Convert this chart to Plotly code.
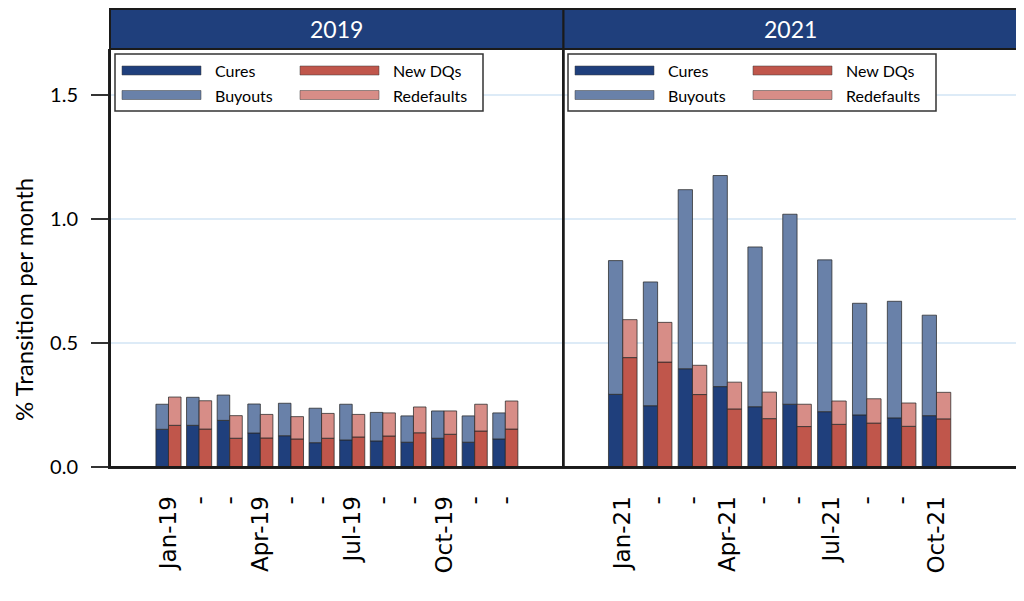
import plotly.graph_objects as go

# ---------------- data ----------------
months_2019 = ["Jan-19", "Feb-19", "Mar-19", "Apr-19", "May-19", "Jun-19",
               "Jul-19", "Aug-19", "Sep-19", "Oct-19", "Nov-19", "Dec-19"]
ticks_2019 = ["Jan-19", "-", "-", "Apr-19", "-", "-", "Jul-19", "-", "-", "Oct-19", "-", "-"]
cures_2019 = [0.152, 0.168, 0.188, 0.137, 0.126, 0.098, 0.109, 0.105, 0.100, 0.116, 0.100, 0.113]
buyouts_2019 = [0.101, 0.113, 0.102, 0.117, 0.131, 0.139, 0.144, 0.115, 0.106, 0.110, 0.106, 0.105]
newdq_2019 = [0.168, 0.153, 0.116, 0.117, 0.113, 0.116, 0.121, 0.125, 0.138, 0.132, 0.145, 0.153]
redef_2019 = [0.114, 0.114, 0.091, 0.095, 0.090, 0.100, 0.091, 0.093, 0.104, 0.094, 0.108, 0.113]

months_2021 = ["Jan-21", "Feb-21", "Mar-21", "Apr-21", "May-21", "Jun-21",
               "Jul-21", "Aug-21", "Sep-21", "Oct-21"]
ticks_2021 = ["Jan-21", "-", "-", "Apr-21", "-", "-", "Jul-21", "-", "-", "Oct-21"]
cures_2021 = [0.293, 0.247, 0.396, 0.324, 0.243, 0.253, 0.223, 0.210, 0.198, 0.207]
buyouts_2021 = [0.539, 0.499, 0.722, 0.851, 0.644, 0.766, 0.612, 0.450, 0.470, 0.405]
newdq_2021 = [0.441, 0.423, 0.292, 0.234, 0.195, 0.163, 0.172, 0.177, 0.164, 0.194]
redef_2021 = [0.153, 0.160, 0.118, 0.108, 0.107, 0.090, 0.094, 0.098, 0.094, 0.107]

panel_titles = ["2019", "2021"]
series_names = ["Cures", "Buyouts", "New DQs", "Redefaults"]
y_ticks = [0.0, 0.5, 1.0, 1.5]
y_title = "% Transition per month"

# ---------------- styles ----------------
C_CURES = "#1F3F7C"
C_BUY = "#6981A9"
C_NEWDQ = "#C0564B"
C_REDEF = "#D78D87"
HEADER = "#1F3F7C"
OUTLINE = dict(color="rgba(40,40,40,0.75)", width=1)
FONT = "Lato"

# the page body adds an 8px offset, so the figure is sized to fit inside the window
OFF = 8
W, H = 1010, 590
ML, MR, MT, MB = 102, 1, 41, 131
PW, PH = W - ML - MR, H - MT - MB
X0, Y0 = OFF + ML, OFF + MT + PH  # screen position of plot-area left / bottom


def px(x):
    return (x - X0) / PW


def py(y):
    return (Y0 - y) / PH


fig = go.Figure()

panels = [
    (months_2019, cures_2019, buyouts_2019, newdq_2019, redef_2019, "x", "y"),
    (months_2021, cures_2021, buyouts_2021, newdq_2021, redef_2021, "x2", "y2"),
]
for months, cu, bu, nd, rd, xa, ya in panels:
    fig.add_trace(go.Bar(x=months, y=cu, name=series_names[0], offsetgroup="blue",
                         marker=dict(color=C_CURES, line=OUTLINE), xaxis=xa, yaxis=ya,
                         showlegend=False))
    fig.add_trace(go.Bar(x=months, y=bu, base=cu, name=series_names[1], offsetgroup="blue",
                         marker=dict(color=C_BUY, line=OUTLINE), xaxis=xa, yaxis=ya,
                         showlegend=False))
    fig.add_trace(go.Bar(x=months, y=nd, name=series_names[2], offsetgroup="red",
                         marker=dict(color=C_NEWDQ, line=OUTLINE), xaxis=xa, yaxis=ya,
                         showlegend=False))
    fig.add_trace(go.Bar(x=months, y=rd, base=nd, name=series_names[3], offsetgroup="red",
                         marker=dict(color=C_REDEF, line=OUTLINE), xaxis=xa, yaxis=ya,
                         showlegend=False))

xcommon = dict(type="category", showgrid=False, showline=True, linecolor="#222222", linewidth=2,
               ticks="outside", ticklen=18, tickcolor="rgba(0,0,0,0)", tickangle=-90,
               tickfont=dict(family="DejaVu Sans", size=23, color="#000000"), zeroline=False,
               automargin=False)
ycommon = dict(range=[0, 1.685], tickvals=y_ticks, tickformat=".1f", showgrid=True,
               gridcolor="#DDEBF7", gridwidth=1.5, zeroline=False, showline=True,
               linecolor="#222222", linewidth=2, automargin=False)

fig.update_layout(
    width=W, height=H,
    margin=dict(l=ML, r=MR, t=MT, b=MB),
    paper_bgcolor="white", plot_bgcolor="white",
    barmode="group", bargap=0.18, bargroupgap=0,
    font=dict(family=FONT, color="#000000"),
    showlegend=False,
    xaxis=dict(domain=[0, 0.5], range=[-1.91, 12.9], tickvals=months_2019, ticktext=ticks_2019,
               anchor="y", **xcommon),
    xaxis2=dict(domain=[0.5, 1], range=[-1.70, 11.31], tickvals=months_2021, ticktext=ticks_2021,
                anchor="y2", **xcommon),
    yaxis=dict(anchor="x", ticks="outside", ticklen=17, tickwidth=1.5, tickcolor="#333333",
               ticklabelstandoff=9,
               tickfont=dict(family=FONT, size=20, color="#000000"),
               **ycommon),
    yaxis2=dict(anchor="x2", matches="y", showticklabels=False, ticks="", **ycommon),
)

shapes = []
annotations = []
# y-axis title (placed a little below the plot-area centre, as in the reference)
annotations.append(dict(xref="paper", yref="paper", x=px(23), y=py(300), text=y_title,
                        textangle=-90, showarrow=False, xanchor="center", yanchor="middle",
                        font=dict(family=FONT, size=24, color="#000000")))

for i, title in enumerate(panel_titles):
    xr = "x domain" if i == 0 else "x2 domain"
    yr = "y domain" if i == 0 else "y2 domain"
    # panel border
    shapes.append(dict(type="rect", xref=xr, yref=yr, x0=0, x1=1, y0=0, y1=1,
                       line=dict(color="#1a1a1a", width=2), layer="above"))
    # header strip
    shapes.append(dict(type="rect", xref=xr, yref=yr, x0=0, x1=1, y0=1, y1=1 + 40 / PH,
                       fillcolor=HEADER, line=dict(color="#1a1a1a", width=2), layer="above"))
    annotations.append(dict(xref=xr, yref=yr, x=0.5, y=1 + 20 / PH, text=title, showarrow=False,
                            font=dict(family=FONT, size=23, color="white"),
                            xanchor="center", yanchor="middle"))

# custom legends (one per panel)
legend_entries = [
    (series_names[0], C_CURES, 0, 0),
    (series_names[2], C_NEWDQ, 1, 0),
    (series_names[1], C_BUY, 0, 1),
    (series_names[3], C_REDEF, 1, 1),
]
for off in [0, 453]:
    shapes.append(dict(type="rect", xref="paper", yref="paper",
                       x0=px(115 + off), x1=px(483 + off), y0=py(111), y1=py(54),
                       fillcolor="white", line=dict(color="#333333", width=1.5), layer="above"))
    for name, col, c, r in legend_entries:
        sx0 = 122 + off + c * 178
        yc = 70.5 + r * 24.5
        shapes.append(dict(type="rect", xref="paper", yref="paper",
                           x0=px(sx0), x1=px(sx0 + 79), y0=py(yc + 4.5), y1=py(yc - 4.5),
                           fillcolor=col, line=dict(color="rgba(60,60,60,0.5)", width=1),
                           layer="above"))
        annotations.append(dict(xref="paper", yref="paper", x=px(sx0 + 91), y=py(yc),
                                text=name, showarrow=False, xanchor="left", yanchor="middle",
                                font=dict(family=FONT, size=16, color="#000000")))

fig.update_layout(shapes=shapes, annotations=annotations)
fig.write_html("out.html")
